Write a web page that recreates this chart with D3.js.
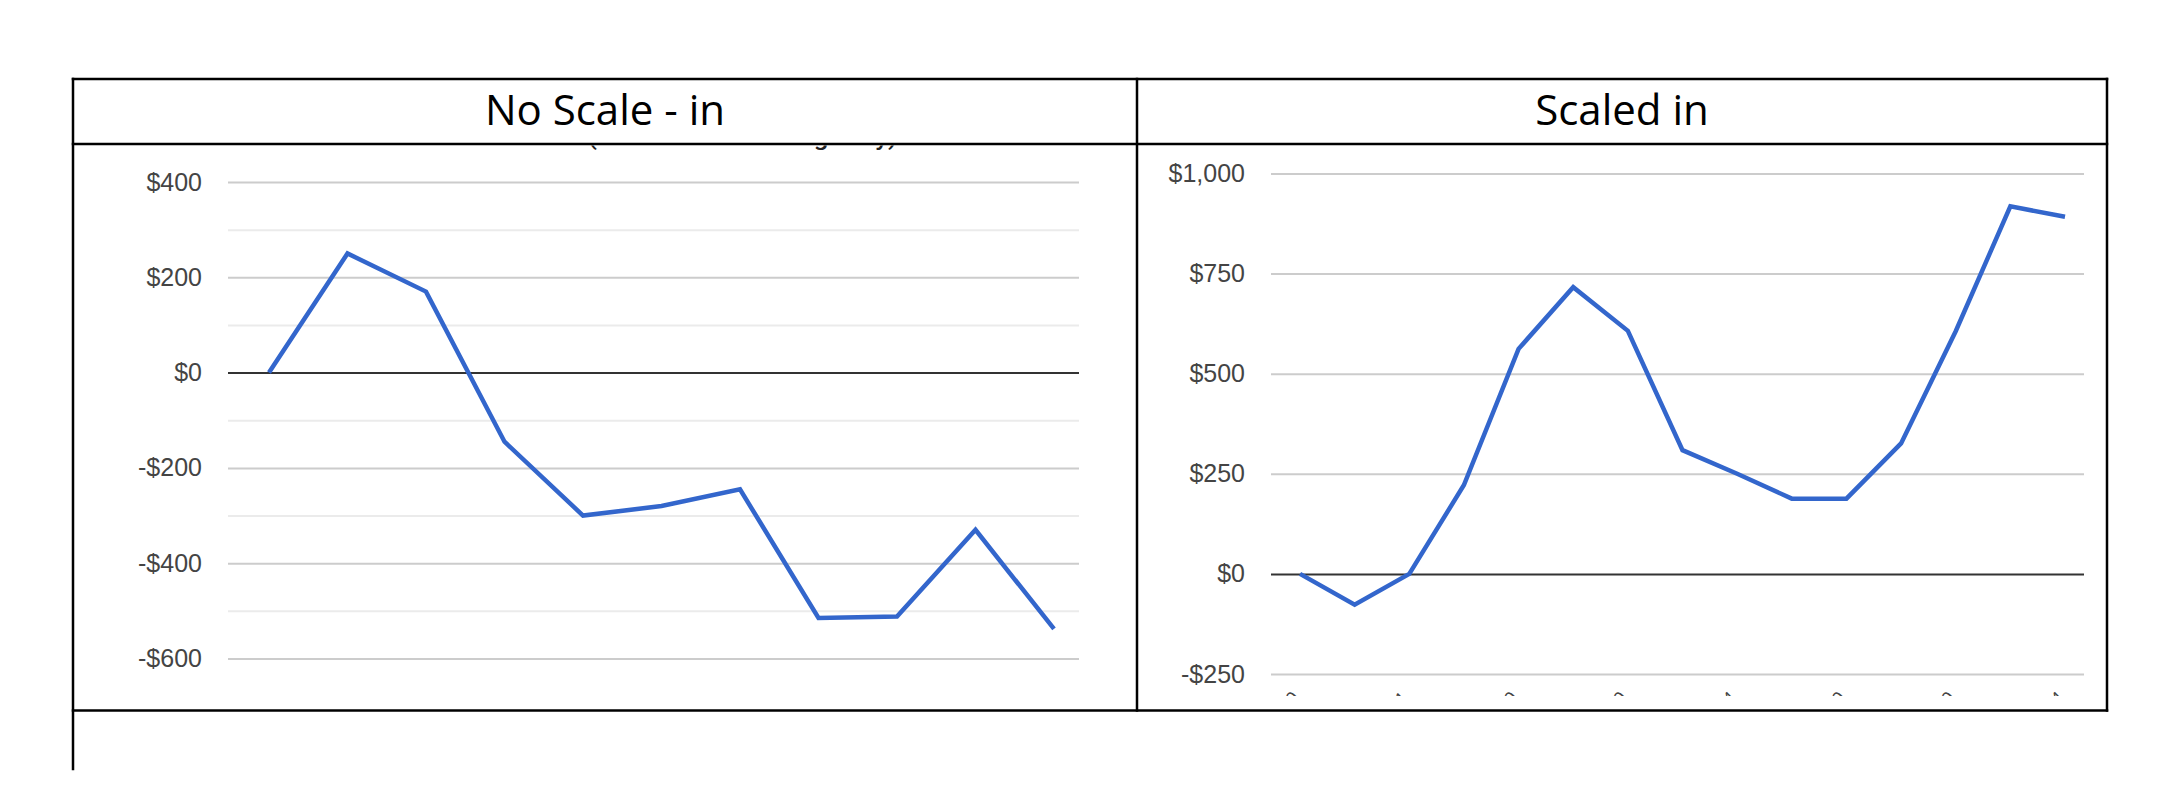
<!DOCTYPE html>
<html>

<head>
    <meta charset="utf-8" />
    <title>No Scale vs Scaled</title>
    <script type="text/javascript" src="https://cdn.jsdelivr.net/npm/d3@7"></script>
    <style>
        body { margin: 0; background: #fff; }
        .tick text { font-family: "Liberation Sans", Arial, sans-serif; }
    </style>
</head>

<body>
    <script type="text/javascript">
        // left panel: "No Scale - in"
        var leftCategories = ["Jan", "Feb", "Mar", "Apr", "May", "Jun", "Jul", "Aug", "Sep", "Oct", "Nov"];
        var leftValues = [0, 250, 170, -145, -300, -280, -245, -515, -512, -330, -538];
        var leftTicks = [-600, -400, -200, 0, 200, 400];
        var leftMinorTicks = [-500, -300, -100, 100, 300];

        // right panel: "Scaled in"
        var rightCategories = ["1/10", "1/17", "1/21", "1/24", "2/10", "2/11", "2/20", "2/27",
            "3/14", "3/17", "3/20", "3/24", "4/10", "4/12", "4/14"];
        var rightValues = [0, -77, 0, 222, 562, 716, 607, 309, 250, 188, 188, 326, 606, 918, 892];
        var rightTicks = [-250, 0, 250, 500, 750, 1000];

        var headers = ["No Scale - in", "Scaled in"];

        var money = d3.formatLocale({
            decimal: ".", thousands: ",", grouping: [3], currency: ["$", ""], minus: "-"
        }).format("$,.0f");

        var svg = d3.select("body").append("svg")
            .attr("width", 2160)
            .attr("height", 786);

        var defs = svg.append("defs");

        function lineChart(opts) {
            var x = d3.scalePoint()
                .domain(opts.categories)
                .range(opts.xRange);

            var y = d3.scaleLinear()
                .domain(opts.domain)
                .range(opts.yRange);

            var g = svg.append("g")
                .attr("clip-path", "url(#" + opts.id + "-clip)");

            defs.append("clipPath").attr("id", opts.id + "-clip")
                .append("rect")
                .attr("x", opts.cell[0]).attr("y", 145.5)
                .attr("width", opts.cell[1] - opts.cell[0]).attr("height", opts.clipBottom - 145.5);

            var gw = opts.grid[1] - opts.grid[0];

            if (opts.minorTicks) {
                g.append("g")
                    .attr("transform", "translate(" + opts.grid[0] + ",0)")
                    .call(d3.axisLeft(y).tickValues(opts.minorTicks).tickSize(-gw).tickFormat(""))
                    .call(function (a) {
                        a.select(".domain").remove();
                        a.selectAll("line").attr("stroke", "#ebebeb").attr("stroke-width", 2);
                    });
            }

            g.append("g")
                .attr("transform", "translate(" + opts.grid[0] + ",0)")
                .call(d3.axisLeft(y).tickValues(opts.ticks).tickSize(-gw).tickPadding(26).tickFormat(money))
                .call(function (a) {
                    a.select(".domain").remove();
                    a.selectAll("line")
                        .attr("stroke", function (d) { return d === 0 ? "#333" : "#ccc"; })
                        .attr("stroke-width", 2);
                    a.selectAll("text")
                        .attr("fill", "#444")
                        .attr("font-size", 25);
                });

            // category labels (mostly hidden below the cell edge)
            if (opts.showLabels) {
                var lg = g.append("g").attr("clip-path", "url(#" + opts.id + "-lclip)");
                defs.append("clipPath").attr("id", opts.id + "-lclip")
                    .append("rect")
                    .attr("x", opts.cell[0]).attr("y", 680)
                    .attr("width", opts.cell[1] - opts.cell[0]).attr("height", 16);
                lg.selectAll("text")
                    .data(opts.categories.filter(function (d, i) { return i % 2 === 0; }))
                    .enter().append("text")
                    .attr("transform", function (d) { return "translate(" + x(d) + ",699) rotate(-45)"; })
                    .attr("text-anchor", "end")
                    .attr("font-family", "Liberation Sans, Arial, sans-serif")
                    .attr("font-size", 18)
                    .attr("fill", "#444")
                    .text(function (d) { return d; });
            }

            var line = d3.line()
                .x(function (d, i) { return x(opts.categories[i]); })
                .y(function (d) { return y(d); });

            g.append("path")
                .datum(opts.values)
                .attr("fill", "none")
                .attr("stroke", "#3366cc")
                .attr("stroke-width", 4.5)
                .attr("d", line);

            if (opts.title) {
                g.append("text")
                    .attr("x", opts.title.x)
                    .attr("y", 144.5)
                    .attr("textLength", opts.title.len)
                    .attr("lengthAdjust", "spacingAndGlyphs")
                    .attr("font-family", "Roboto, sans-serif")
                    .attr("font-weight", 500)
                    .attr("font-size", 22)
                    .attr("fill", "#222")
                    .text(opts.title.text);
            }
        }

        lineChart({
            id: "left",
            categories: leftCategories,
            values: leftValues,
            ticks: leftTicks,
            minorTicks: leftMinorTicks,
            domain: [-600, 400],
            xRange: [269, 1054],
            yRange: [658.5, 182],
            grid: [228, 1079],
            cell: [73, 1137],
            clipBottom: 710,
            title: { text: "(Cumulative Running Tally)", x: 588, len: 309 }
        });

        lineChart({
            id: "right",
            categories: rightCategories,
            values: rightValues,
            ticks: rightTicks,
            domain: [-250, 1000],
            xRange: [1300, 2065],
            yRange: [674, 173.5],
            grid: [1271, 2084],
            cell: [1137, 2107],
            clipBottom: 710,
            showLabels: true
        });

        // header texts
        svg.selectAll("text.header")
            .data(headers)
            .enter().append("text")
            .attr("class", "header")
            .attr("x", function (d, i) { return i === 0 ? 605 : 1622; })
            .attr("y", 124.5)
            .attr("text-anchor", "middle")
            .attr("font-family", "Open Sans, sans-serif")
            .attr("font-size", 42)
            .attr("fill", "#000")
            .text(function (d) { return d; });

        // table borders
        var borders = [
            [73, 79, 2107, 79],
            [73, 144, 2107, 144],
            [73, 710.5, 2107, 710.5],
            [73, 79, 73, 769],
            [1137, 79, 1137, 710.5],
            [2107, 79, 2107, 710.5]
        ];
        svg.append("g").selectAll("line")
            .data(borders)
            .enter().append("line")
            .attr("x1", function (d) { return d[0]; })
            .attr("y1", function (d) { return d[1]; })
            .attr("x2", function (d) { return d[2]; })
            .attr("y2", function (d) { return d[3]; })
            .attr("stroke", "#000")
            .attr("stroke-width", 2.5)
            .attr("stroke-linecap", "square");
    </script>
</body>

</html>
